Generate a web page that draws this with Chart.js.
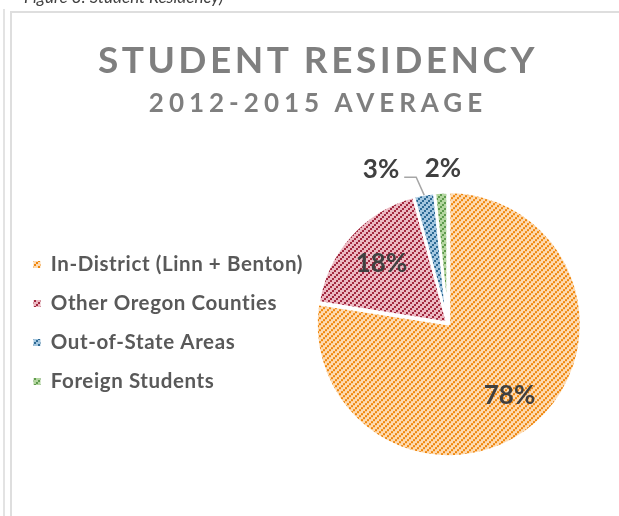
<!DOCTYPE html>
<html>
<head>
<meta charset="utf-8">
<script src="https://cdn.jsdelivr.net/npm/chart.js@4.4.1/dist/chart.umd.min.js"></script>
<style>
  html, body { margin: 0; padding: 0; background: #fff; width: 619px; height: 516px; overflow: hidden; }
  #wrap { position: relative; width: 619px; height: 516px; }
  #c { position: absolute; left: 0; top: 0; }
  .ln { position: absolute; background: #dedede; }
  #caption { position: absolute; left: 24px; top: -14px; font: italic 17px Lato, "Open Sans", sans-serif; color: #404040; white-space: nowrap; }
  #title, #subtitle { position: absolute; left: 0; width: 636px; text-align: center; font-family: Lato, "Open Sans", sans-serif; font-weight: bold; color: #7f7f7f; white-space: nowrap; }
  #title { top: 37px; font-size: 37px; letter-spacing: 3.5px; line-height: 44px; }
  #subtitle { top: 87px; font-size: 26px; letter-spacing: 5px; line-height: 30px; }
</style>
</head>
<body>
<div id="wrap">
  <canvas id="c" width="619" height="516"></canvas>
  <div class="ln" style="left:3px;top:9px;width:2px;height:507px;background:#e3e3e3"></div>
  <div class="ln" style="left:10px;top:11px;width:2px;height:505px"></div>
  <div class="ln" style="left:10px;top:11px;width:609px;height:2px"></div>
  <div id="caption">Figure 3: Student Residency)</div>
  <div id="title">STUDENT RESIDENCY</div>
  <div id="subtitle">2012-2015 AVERAGE</div>
</div>
<script>
// ---- data ----
const categories = ['In-District (Linn + Benton)', 'Other Oregon Counties', 'Out-of-State Areas', 'Foreign Students'];
const shares = [77.5, 18.3, 2.6, 1.6];

// ---- styles ----
const stripeColors = ['#F0860A', '#A2283F', '#2D6A95', '#5E9B4D'];
const fillColors = ['#FDDBB3', '#ECB9C2', '#A4C7E0', '#B4D6A0'];
const sliceOffsets = [6, 0, 0, 0];
const legendFont = { family: 'Lato', weight: 'bold', size: 20.5 };
const legendSpacing = '0.6px';
const legendPad = 18.5;
const pieCenterX = 451;
const pieRadius = 131;

function hatch(bg, fg) {
  const c = document.createElement('canvas');
  c.width = 6; c.height = 6;
  const g = c.getContext('2d');
  g.fillStyle = bg; g.fillRect(0, 0, 6, 6);
  g.fillStyle = fg;
  for (let bx = 0; bx < 3; bx++)
    for (let by = 0; by < 3; by++)
      if ((bx + by) % 3 === 2) g.fillRect(bx * 2, by * 2, 2, 2);
  return g.createPattern(c, 'repeat');
}
const patterns = fillColors.map((bg, i) => hatch(bg, stripeColors[i]));

// slight letter spacing for the legend text only
const spacingPlugin = {
  id: 'legendSpacing',
  beforeLayout(chart) { chart.ctx.letterSpacing = legendSpacing; },
  afterLayout(chart) { chart.ctx.letterSpacing = '0px'; },
  beforeDraw(chart) { chart.ctx.letterSpacing = legendSpacing; },
  beforeDatasetsDraw(chart) { chart.ctx.letterSpacing = '0px'; }
};

const labelPlugin = {
  id: 'pctLabels',
  afterDatasetsDraw(chart) {
    const ctx = chart.ctx;
    const meta = chart.getDatasetMeta(0);
    const total = shares.reduce((a, b) => a + b, 0);
    ctx.save();
    ctx.letterSpacing = '0px';
    ctx.font = 'bold 26px Lato';
    ctx.fillStyle = '#404040';
    ctx.textBaseline = 'middle';
    meta.data.forEach((arc, i) => {
      const p = arc.getProps(['x', 'y', 'startAngle', 'endAngle', 'outerRadius'], true);
      const mid = (p.startAngle + p.endAngle) / 2;
      const off = sliceOffsets[i];
      const cx = p.x + Math.cos(mid) * off, cy = p.y + Math.sin(mid) * off;
      const txt = Math.round(shares[i] / total * 100) + '%';
      if (i < 2) {
        ctx.textAlign = 'center';
        const d = p.outerRadius * 0.68;
        ctx.fillText(txt, cx + Math.cos(mid) * d, cy + Math.sin(mid) * d);
      } else if (i === 2) {
        const x0 = cx + Math.cos(mid) * (p.outerRadius - 1), y0 = cy + Math.sin(mid) * (p.outerRadius - 1);
        const x1 = x0 - 8, y1 = y0 - 18, x2 = x1 - 12;
        ctx.strokeStyle = '#a6a6a6'; ctx.lineWidth = 1.5;
        ctx.beginPath(); ctx.moveTo(x0, y0); ctx.lineTo(x1, y1); ctx.lineTo(x2, y1); ctx.stroke();
        ctx.textAlign = 'right';
        ctx.fillText(txt, x2 - 5, y1 - 8);
      } else {
        ctx.textAlign = 'center';
        const d = p.outerRadius + 24;
        ctx.fillText(txt, cx + Math.cos(mid) * d + 3, cy + Math.sin(mid) * d);
      }
    });
    ctx.restore();
  }
};

const chart = new Chart(document.getElementById('c'), {
  type: 'pie',
  data: {
    labels: categories,
    datasets: [{
      data: shares,
      backgroundColor: patterns,
      borderColor: '#ffffff',
      borderWidth: 3,
      offset: sliceOffsets,
      radius: pieRadius,
      clip: false
    }]
  },
  options: {
    responsive: false,
    animation: false,
    devicePixelRatio: 1,
    layout: { padding: { top: 152, left: 15, right: 40, bottom: 22 } },
    plugins: {
      title: { display: false },
      tooltip: { enabled: false },
      legend: {
        position: 'left',
        align: 'center',
        labels: {
          boxWidth: 7,
          boxHeight: 7,
          padding: legendPad,
          color: '#595959',
          font: legendFont,
          generateLabels(c) {
            const items = Chart.overrides.doughnut.plugins.legend.labels.generateLabels(c);
            items.forEach(it => { it.lineWidth = 0; it.strokeStyle = 'rgba(0,0,0,0)'; });
            return items;
          }
        }
      }
    }
  },
  plugins: [spacingPlugin, labelPlugin]
});

// shift the plot area so the pie centre sits where the reference has it
for (let k = 0; k < 2; k++) {
  const ref = chart.getDatasetMeta(0).data[1];
  const dx = ref.x - pieCenterX;
  chart.options.layout.padding.right = Math.round(chart.options.layout.padding.right + 2 * dx);
  chart.update();
}
</script>
</body>
</html>
